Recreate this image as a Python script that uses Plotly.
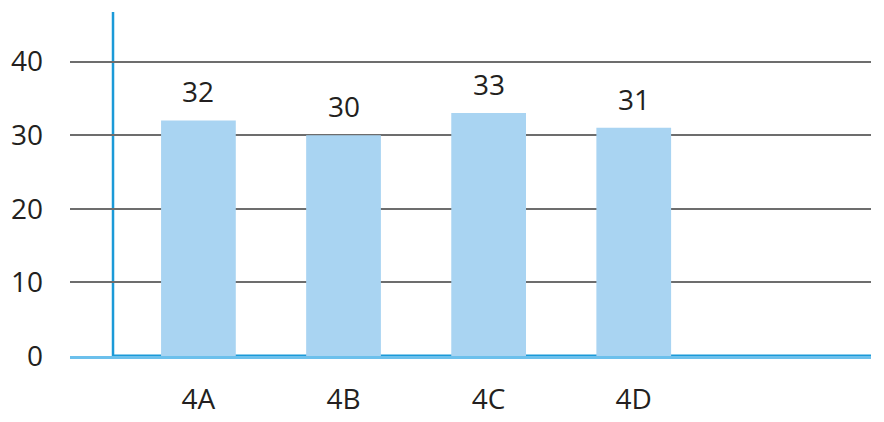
import plotly.graph_objects as go

categories = ["4A", "4B", "4C", "4D"]
values = [32, 30, 33, 31]
y_ticks = [0, 10, 20, 30, 40]

FONT = "Open Sans"
TEXT = "#231f20"
BAR = "#a9d4f2"
BLUE = "#1b9ad8"
LIGHTBLUE = "#6cc0ec"

fig = go.Figure()
fig.add_trace(go.Bar(
    x=categories, y=values,
    marker=dict(color=BAR, line=dict(width=0)),
    width=0.515,
    hoverinfo="skip",
))

for c, v in zip(categories, values):
    fig.add_annotation(
        x=c, y=v, text=str(v), showarrow=False,
        yanchor="bottom", yshift=8,
        font=dict(family=FONT, size=28, color=TEXT),
    )

# vertical axis line (offset inside plot area)
fig.add_shape(type="line", xref="paper", yref="paper",
              x0=0.0537, x1=0.0537, y0=0, y1=1,
              line=dict(color=BLUE, width=2.5), layer="below")
# darker part of the baseline
fig.add_shape(type="line", xref="paper", yref="y",
              x0=0.0537, x1=1, y0=0, y1=0,
              line=dict(color=BLUE, width=3), layer="below")

fig.update_layout(
    width=884, height=422,
    margin=dict(l=70, r=13, t=12, b=66),
    paper_bgcolor="white", plot_bgcolor="white",
    showlegend=False,
    font=dict(family=FONT, color=TEXT),
    xaxis=dict(
        type="category",
        range=[-0.885, 4.635],
        showgrid=False, zeroline=False,
        showline=True, linecolor=LIGHTBLUE, linewidth=3,
        layer="below traces",
        tickfont=dict(family=FONT, size=28, color=TEXT),
        ticks="", ticklabelstandoff=16,
        automargin=False,
        fixedrange=True,
    ),
    yaxis=dict(
        range=[0, 46.74],
        tickvals=y_ticks,
        showgrid=True, gridcolor="#6d6d6d", gridwidth=2,
        zeroline=False, showline=False,
        layer="below traces",
        tickfont=dict(family=FONT, size=28, color=TEXT),
        ticks="", ticklabelstandoff=26,
        automargin=False,
        fixedrange=True,
    ),
)

fig.write_html(
    "out.html",
    config={"displayModeBar": False, "staticPlot": True},
    post_script="document.body.style.margin='0';document.body.style.overflow='hidden';",
)
